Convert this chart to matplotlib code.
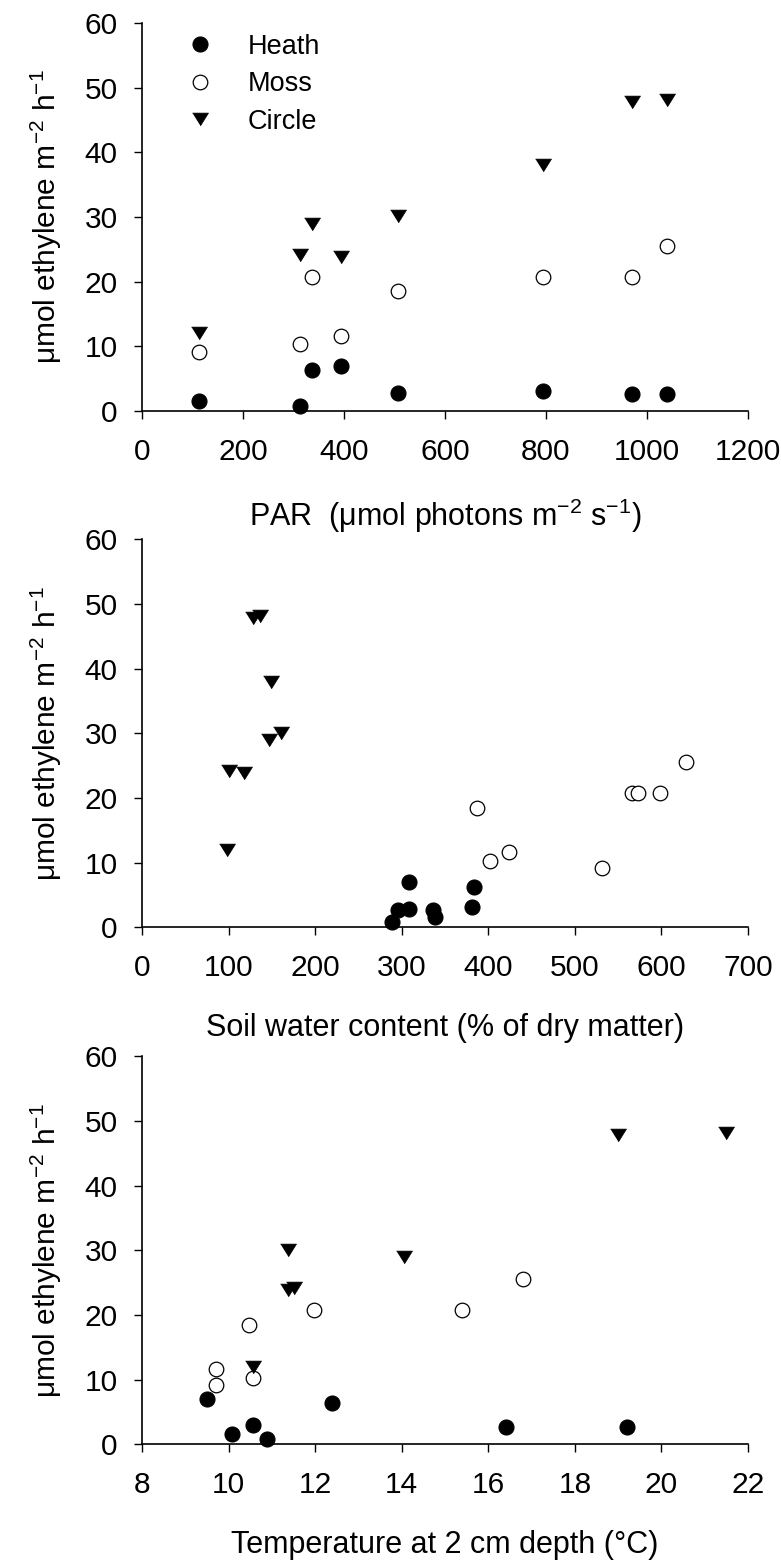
import matplotlib
matplotlib.use("Agg")
import matplotlib.pyplot as plt
from matplotlib.lines import Line2D

plt.rcParams['font.family'] = ['Liberation Sans', 'DejaVu Sans']
plt.rcParams['mathtext.fontset'] = 'custom'
plt.rcParams['mathtext.rm'] = 'Liberation Sans'
plt.rcParams['mathtext.it'] = 'Liberation Sans'
plt.rcParams['mathtext.default'] = 'regular'

# ---------------- data ----------------
# Panel 1: PAR
par_heath = [112, 312, 337, 395, 507, 794, 970, 1039]
eth_heath_par = [1.6, 0.8, 6.3, 7.0, 2.8, 3.1, 2.6, 2.7]
par_moss = [112, 312, 337, 395, 507, 794, 970, 1039]
eth_moss_par = [9.1, 10.3, 20.7, 11.6, 18.5, 20.7, 20.7, 25.6]
par_circle = [112, 312, 337, 395, 507, 794, 970, 1039]
eth_circle_par = [12.1, 24.1, 28.9, 23.8, 30.1, 38.0, 47.8, 48.1]

# Panel 2: soil water content
swc_heath = [289, 338, 296, 308, 336, 381, 383, 308]
eth_heath_swc = [0.8, 1.6, 2.6, 2.8, 2.7, 3.1, 6.3, 7.0]
swc_moss = [531, 402, 424, 387, 566, 573, 598, 628]
eth_moss_swc = [9.1, 10.3, 11.6, 18.5, 20.7, 20.7, 20.7, 25.6]
swc_circle = [98, 100, 118, 147, 161, 149, 128, 136]
eth_circle_swc = [12.0, 24.1, 23.8, 28.9, 30.1, 38.0, 47.8, 48.1]

# Panel 3: temperature at 2 cm depth
temp_heath = [9.5, 10.08, 10.57, 10.88, 12.38, 16.4, 19.2]
eth_heath_temp = [7.0, 1.6, 2.9, 0.8, 6.35, 2.6, 2.7]
temp_moss = [9.7, 9.7, 10.47, 10.57, 11.97, 15.4, 16.8]
eth_moss_temp = [11.6, 9.1, 18.5, 10.3, 20.7, 20.7, 25.6]
temp_circle = [11.38, 11.38, 11.5, 14.05, 10.57, 19.0, 21.5]
eth_circle_temp = [30.1, 23.9, 24.1, 28.9, 12.0, 47.8, 48.1]

series_names = ['Heath', 'Moss', 'Circle']
y_ticks = [0, 10, 20, 30, 40, 50, 60]
x_ticks_par = [0, 200, 400, 600, 800, 1000, 1200]
x_ticks_swc = [0, 100, 200, 300, 400, 500, 600, 700]
x_ticks_temp = [8, 10, 12, 14, 16, 18, 20, 22]

ylab = u'\u03bcmol ethylene m$^{-2}$ h$^{-1}$'
xlab_par = u'PAR  (\u03bcmol photons m$^{-2}$ s$^{-1}$)'
xlab_swc = 'Soil water content (% of dry matter)'
xlab_temp = u'Temperature at 2 cm depth (\u00b0C)'

# ---------------- figure ----------------
W, H = 781, 1560
fig = plt.figure(figsize=(W / 100, H / 100), dpi=100)

tri = [(-1, 0.8), (1, 0.8), (0, -0.8)]
styles = [
    dict(marker='o', ms=10.8, mfc='black', mec='black', mew=0.8, ls='none'),
    dict(marker='o', ms=10.5, mfc='white', mec='black', mew=0.9, ls='none'),
    dict(marker=tri, ms=11.5, mfc='black', mec='black', mew=0.5, ls='none'),
]

panels = [
    (0.7365, [(par_heath, eth_heath_par), (par_moss, eth_moss_par), (par_circle, eth_circle_par)],
     (0, 1200), x_ticks_par, xlab_par),
    (0.4056, [(swc_heath, eth_heath_swc), (swc_moss, eth_moss_swc), (swc_circle, eth_circle_swc)],
     (0, 700), x_ticks_swc, xlab_swc),
    (0.0742, [(temp_heath, eth_heath_temp), (temp_moss, eth_moss_temp), (temp_circle, eth_circle_temp)],
     (8, 22), x_ticks_temp, xlab_temp),
]

left = 142 / W
width = 606 / W
height = 388 / H

for i, (bottom, data, xlim, xt, xlab) in enumerate(panels):
    ax = fig.add_axes([left, bottom, width, height])
    for (xs, ys), st in zip(data, styles):
        ax.plot(xs, ys, clip_on=False, zorder=3, **st)
    ax.set_xlim(*xlim)
    ax.set_ylim(0, 60)
    ax.set_xticks(xt)
    ax.set_yticks(y_ticks)
    for s in ['top', 'right']:
        ax.spines[s].set_visible(False)
    for s in ['left', 'bottom']:
        ax.spines[s].set_linewidth(1.2)
    ax.tick_params(axis='both', direction='out', length=5.5, width=1.0,
                   labelsize=21.5, colors='black')
    ax.tick_params(axis='x', pad=14)
    ax.tick_params(axis='y', pad=12)
    ax.set_ylabel(ylab, fontsize=21.5)
    ax.yaxis.set_label_coords(-0.128, 0.5)
    ax.set_xlabel(xlab, fontsize=22)
    ax.xaxis.set_label_coords(0.5, -0.222)

    if i == 0:
        handles = [Line2D([], [], **st) for st in styles]
        ax.legend(handles, series_names, loc='upper left',
                  bbox_to_anchor=(0.074, 0.972), frameon=False, fontsize=19.5,
                  borderpad=0, borderaxespad=0, handlelength=1.0,
                  handletextpad=1.25, labelspacing=0.42, numpoints=1)

fig.savefig('out.png', dpi=100)
